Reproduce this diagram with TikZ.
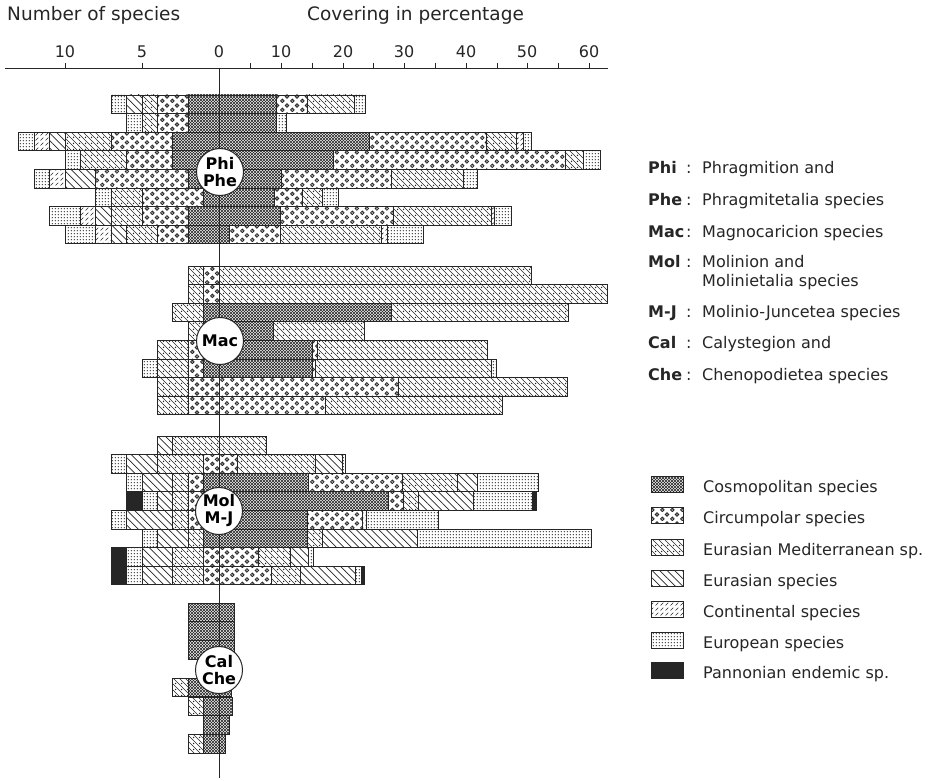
\documentclass[tikz,border=0pt]{standalone}
\usepackage{fontspec}
\setmainfont{DejaVu Sans}
\usetikzlibrary{patterns}

\pgfdeclarepatternformonly{pcosmo}{\pgfpoint{-0.5pt}{-0.5pt}}{\pgfpoint{3.5pt}{3.5pt}}{\pgfpoint{3pt}{3pt}}{%
  \pgfsetlinewidth{0.65pt}%
  \pgfpathmoveto{\pgfpoint{0pt}{0pt}}\pgfpathlineto{\pgfpoint{3pt}{3pt}}%
  \pgfpathmoveto{\pgfpoint{0pt}{3pt}}\pgfpathlineto{\pgfpoint{3pt}{0pt}}%
  \pgfusepath{stroke}}
\pgfdeclarepatternformonly{pcirc}{\pgfpointorigin}{\pgfpoint{10pt}{9.3pt}}{\pgfpoint{10pt}{9.3pt}}{%
  \pgfsetlinewidth{0.9pt}%
  \pgfpathcircle{\pgfpoint{2.5pt}{2.3pt}}{1.9pt}%
  \pgfpathcircle{\pgfpoint{7.5pt}{7pt}}{1.9pt}%
  \pgfusepath{stroke}%
  \pgfpathcircle{\pgfpoint{2.5pt}{2.3pt}}{0.6pt}%
  \pgfpathcircle{\pgfpoint{7.5pt}{7pt}}{0.6pt}%
  \pgfusepath{fill}}
\pgfdeclarepatternformonly{peumed}{\pgfpoint{-0.5pt}{-0.5pt}}{\pgfpoint{6.5pt}{6.5pt}}{\pgfpoint{6pt}{6pt}}{%
  \pgfsetlinewidth{0.6pt}%
  \pgfpathmoveto{\pgfpoint{0pt}{6pt}}\pgfpathlineto{\pgfpoint{6pt}{0pt}}%
  \pgfusepath{stroke}%
  \pgfpathcircle{\pgfpoint{1.6pt}{1.6pt}}{0.75pt}%
  \pgfusepath{fill}}
\pgfdeclarepatternformonly{peurasian}{\pgfpoint{-0.5pt}{-0.5pt}}{\pgfpoint{8pt}{8pt}}{\pgfpoint{7.5pt}{7.5pt}}{%
  \pgfsetlinewidth{0.7pt}%
  \pgfpathmoveto{\pgfpoint{0pt}{7.5pt}}\pgfpathlineto{\pgfpoint{7.5pt}{0pt}}%
  \pgfusepath{stroke}}
\pgfdeclarepatternformonly{pcontin}{\pgfpointorigin}{\pgfpoint{5pt}{5pt}}{\pgfpoint{5pt}{5pt}}{%
  \pgfsetlinewidth{0.65pt}%
  \pgfpathmoveto{\pgfpoint{0.6pt}{0.6pt}}\pgfpathlineto{\pgfpoint{3.8pt}{3.8pt}}%
  \pgfusepath{stroke}}
\pgfdeclarepatternformonly{peurop}{\pgfpointorigin}{\pgfpoint{3.2pt}{3.2pt}}{\pgfpoint{3.2pt}{3.2pt}}{%
  \pgfpathcircle{\pgfpoint{1.6pt}{1.6pt}}{0.85pt}%
  \pgfusepath{fill}}

\tikzset{
  seg/.style={draw=black!85, line width=0.8pt},
  spcosmo/.style={seg, pattern=pcosmo, pattern color=black!85},
  spcirc/.style={seg, pattern=pcirc, pattern color=black!85},
  speumed/.style={seg, pattern=peumed, pattern color=black!85},
  speurasian/.style={seg, pattern=peurasian, pattern color=black!85},
  spcontin/.style={seg, pattern=pcontin, pattern color=black!85},
  speurop/.style={seg, pattern=peurop, pattern color=black!75},
  sppann/.style={seg, fill=black!85},
  axisline/.style={draw=black!85, line width=0.9pt},
  grp/.style={circle, draw=black!85, line width=1pt, fill=white, minimum size=47pt,
    inner sep=0pt, align=center, font=\fontsize{16}{17}\selectfont\bfseries},
  ttl/.style={anchor=base west, inner sep=0pt, font=\fontsize{18.5}{20}\selectfont, text=black!85},
  tick/.style={anchor=base, inner sep=0pt, font=\fontsize{16}{18}\selectfont, text=black!85},
  lgb/.style={anchor=base west, inner sep=0pt, font=\fontsize{16}{18}\selectfont\bfseries, text=black!85},
  lgt/.style={anchor=base west, inner sep=0pt, font=\fontsize{16}{18}\selectfont, text=black!85},
}

\newcommand\barrow[3]{%
  \gdef\bracc{0}%
  \foreach \bp/\bn in {#2}{%
    \pgfmathsetmacro\brnx{\bracc+\bn*15.4}%
    \draw[\bp] ({219-\bracc},#1) rectangle ({219-\brnx},{#1+18.6});%
    \xdef\bracc{\brnx}%
  }%
  \gdef\bracc{0}%
  \foreach \bp/\bn in {#3}{%
    \pgfmathsetmacro\brnx{\bracc+\bn*6.28}%
    \draw[\bp] ({219+\bracc},#1) rectangle ({219+\brnx},{#1+18.6});%
    \xdef\bracc{\brnx}%
  }%
}

\begin{document}
\begin{tikzpicture}[x=1pt,y=-1pt]
\fill[white] (0,0) rectangle (931,781);
\useasboundingbox (0,0) rectangle (931,781);

% titles
\node[ttl] (tnum) at (7,21) {Number of species};
\node[ttl] (tcov) at (307,21) {Covering in percentage};

% axis
\coordinate (axl) at (5,68);
\coordinate (axr) at (608,68);
\draw[axisline] (axl) -- (axr);
\foreach \tx in {65,142,250,281,312,343,373,404,435,466,497,527,558,589}
  \draw[axisline] (\tx,63) -- (\tx,68);
\foreach \tx/\tl in {65/10,142/5,219/0,281/10,343/20,404/30,466/40,527/50,589/60}
  \node[tick] at (\tx,58) {\tl};

% Phi / Phe
\barrow{95}{spcosmo/2, spcirc/2, speumed/1, speurasian/1, speurop/1}{spcosmo/9.2, spcirc/4.8, speumed/7.5, speurop/1.8}
\barrow{113.6}{spcosmo/2, spcirc/2, speumed/1, speurop/1}{spcosmo/9.2, speurop/1.6}
\barrow{132.2}{spcosmo/3, spcirc/4, speumed/3, speurasian/1, spcontin/1, speurop/1}{spcosmo/24, spcirc/18.5, speumed/4.9, spcontin/1.1, speurop/1.3}
\barrow{150.8}{spcosmo/3, spcirc/3, speumed/3, speurop/1}{spcosmo/18.2, spcirc/36.9, speumed/2.9, speurop/2.7}
\barrow{169.4}{spcosmo/2, spcirc/6, speurasian/2, spcontin/1, speurop/1}{spcosmo/9.9, spcirc/17.5, speumed/11.5, speurop/2.2}
\barrow{188}{spcosmo/1, spcirc/4, speumed/2, speurop/1}{spcosmo/8.9, spcirc/4.3, speumed/3.3, speurop/2.5}
\barrow{206.6}{spcosmo/2, spcirc/3, speumed/2, speurasian/1, spcontin/1, speurop/2}{spcosmo/9.7, spcirc/18, speumed/15.6, spcontin/0.5, speurop/2.7}
\barrow{225.2}{spcosmo/2, spcirc/2, speumed/2, speurasian/1, spcontin/1, speurop/2}{spcosmo/1.7, spcirc/8.1, speumed/16, spcontin/1, speurop/5.7}

% Mac
\barrow{266}{spcirc/1, speumed/1}{speumed/49.8}
\barrow{284.6}{spcirc/1, speumed/1}{speumed/61.8}
\barrow{303.2}{spcosmo/1, speumed/2}{spcosmo/27.5, speumed/28.2}
\barrow{321.8}{spcosmo/1, speumed/1}{spcosmo/8.6, speumed/14.6}
\barrow{340.4}{spcosmo/1, spcirc/1, speumed/2}{spcosmo/14.8, spcirc/0.8, speumed/27.2}
\barrow{359}{spcosmo/1, spcirc/1, speumed/2, speurop/1}{spcosmo/14.8, spcirc/0.5, speumed/28, speurop/0.8}
\barrow{377.6}{spcirc/2, speumed/2}{spcirc/28.5, speumed/27}
\barrow{396.2}{spcirc/2, speumed/2}{spcirc/16.9, speumed/28.3}

% Mol / M-J
\barrow{436}{speumed/3, speurasian/1}{speumed/7.5}
\barrow{454.6}{spcirc/1, speumed/3, speurasian/2, speurop/1}{spcirc/2.9, speumed/12.4, speurasian/4.3, speurop/0.6}
\barrow{473.2}{spcosmo/1, spcirc/1, speumed/1, speurasian/2, speurop/1}{spcosmo/14.2, spcirc/15, speumed/8.8, speurasian/3.2, speurop/9.6}
\barrow{491.8}{spcosmo/1, spcirc/1, speumed/1, speurasian/1, speurop/1, sppann/1}{spcosmo/26.9, spcirc/2.4, speumed/2.4, speurasian/8.8, speurop/9.4, sppann/0.6}
\barrow{510.4}{spcosmo/1, spcirc/1, speumed/1, speurasian/3, speurop/1}{spcosmo/14, spcirc/8.9, spcontin/0.5, speurop/11.5}
\barrow{529}{spcosmo/1, speumed/1, speurasian/2, speurop/1}{spcosmo/14, speumed/2.5, speurasian/15.1, speurop/27.7}
\barrow{547.6}{spcirc/1, speumed/2, speurasian/2, speurop/1, sppann/1}{spcirc/6.2, speumed/5.1, speurasian/2.9, speurop/0.8}
\barrow{566.2}{spcirc/1, speumed/2, speurasian/2, speurop/1, sppann/1}{spcirc/8.4, speumed/4.5, speurasian/8.8, speurop/1, sppann/0.5}

% Cal / Che
\barrow{603}{spcosmo/2}{spcosmo/2.5}
\barrow{621.8}{spcosmo/2}{spcosmo/2.5}
\barrow{640.6}{spcosmo/2}{spcosmo/2.5}
\barrow{659.4}{spcosmo/1}{spcosmo/1}
\barrow{678.2}{spcosmo/2, speumed/1}{spcosmo/2}
\barrow{697}{spcosmo/1, speumed/1}{spcosmo/2.2}
\barrow{715.8}{spcosmo/1}{spcosmo/1.6}
\barrow{734.6}{spcosmo/1, speumed/1}{spcosmo/1}

% vertical axis
\coordinate (vtop) at (219,68);
\coordinate (vbot) at (219,778);
\draw[axisline] (vtop) -- (vbot);

% group circles
\node[grp] (cphi) at (220,172) {Phi\\Phe};
\node[grp] (cmac) at (220,341) {Mac};
\node[grp] (cmol) at (219,511) {Mol\\M-J};
\node[grp] (ccal) at (219,670) {Cal\\Che};

% legend of groups
\foreach \ly/\la/\lt [count=\li] in {173/Phi/Phragmition and, 205/Phe/Phragmitetalia species,
    237/Mac/Magnocaricion species, 267/Mol/Molinion and, 317/M-J/Molinio-Juncetea species,
    348/Cal/Calystegion and, 380/Che/Chenopodietea species}{
  \node[lgb] (ga\li) at (648,\ly) {\la};
  \node[lgt] (gc\li) at (686,\ly) {:};
  \node[lgt] (gt\li) at (702,\ly) {\lt};
}
\node[lgt] (gt4b) at (702,286) {Molinietalia species};

% legend of patterns
\foreach \ly/\ls/\lt [count=\li] in {492/spcosmo/Cosmopolitan species, 523/spcirc/Circumpolar species,
    555/speumed/Eurasian Mediterranean sp., 586/speurasian/Eurasian species,
    617/spcontin/Continental species, 648/speurop/European species, 678/sppann/Pannonian endemic sp.}{
  \draw[\ls] (651,\ly-16) rectangle (683,\ly);
  \node[lgt] (pt\li) at (703,\ly) {\lt};
}
\end{tikzpicture}
\end{document}
